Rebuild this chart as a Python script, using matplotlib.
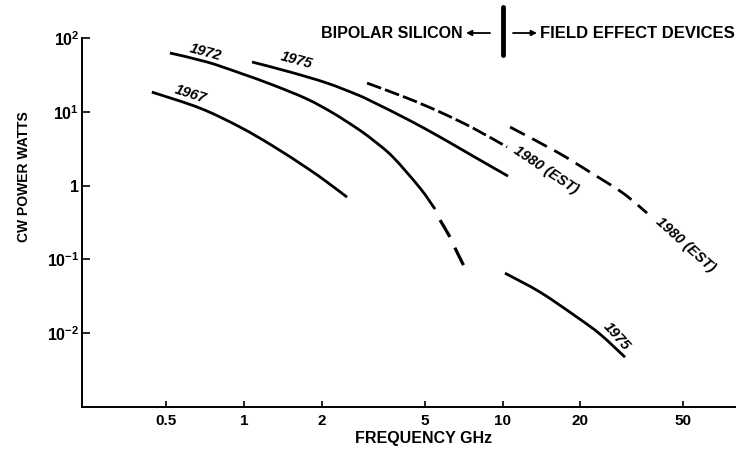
import numpy as np
import matplotlib
matplotlib.use("Agg")
import matplotlib.pyplot as plt
import matplotlib.transforms as mtransforms
from matplotlib.path import Path
from matplotlib.patches import PathPatch, FancyArrowPatch

plt.rcParams["font.family"] = ["Liberation Sans", "DejaVu Sans"]
plt.rcParams["font.weight"] = "bold"
plt.rcParams["mathtext.fontset"] = "custom"
plt.rcParams["mathtext.rm"] = "Liberation Sans:bold"
plt.rcParams["mathtext.bf"] = "Liberation Sans:bold"
plt.rcParams["mathtext.it"] = "Liberation Sans:bold"

# --- data: CW power (W) vs frequency (GHz) ---------------------------------
bip_1967_f = [0.44, 0.676, 0.965, 1.295, 1.753, 2.095, 2.503]
bip_1967_p = [18.5, 11.2, 6.21, 3.43, 1.73, 1.115, 0.698]

bip_1972_f = [0.517, 0.719, 0.965, 1.295, 1.753, 2.21, 2.761, 3.155, 3.771, 4.797, 5.482]
bip_1972_p = [62.6, 47.3, 33.5, 23.05, 14.89, 9.62, 5.84, 4.14, 2.43, 0.925, 0.48]

bip_1972_tail_f = [5.731, 6.265, 6.551, 7.289]
bip_1972_tail_p = [0.3405, 0.2002, 0.1421, 0.0672]

bip_1975_f = [1.074, 1.507, 2.095, 2.761, 3.155, 4.271, 5.731, 7.69, 10.50]
bip_1975_p = [47.3, 34.6, 24.5, 16.87, 13.56, 7.97, 4.55, 2.51, 1.345]

bip_1980_f = [2.991, 4.271, 5.731, 7.69, 10.41]
bip_1980_p = [24.5, 15.37, 9.92, 6.02, 3.33]

fet_1975_f = [10.22, 13.97, 19.42, 23.84, 29.78]
fet_1975_p = [0.0651, 0.036, 0.01648, 0.0097, 0.00473]

fet_1980_f = [10.69, 16.25, 21.81, 29.25, 36.23]
fet_1980_p = [6.21, 2.85, 1.52, 0.791, 0.4237]

xtick_vals = [0.5, 1, 2, 5, 10, 20, 50]
xtick_labels = ["0.5", "1", "2", "5", "10", "20", "50"]
ytick_vals = [1e-2, 1e-1, 1, 1e1, 1e2]
ytick_labels = ["$10^{-2}$", "$10^{-1}$", "1", "$10^{1}$", "$10^{2}$"]

FET_BOUNDARY_GHZ = 10


def smooth_curve(xs, ys):
    """Catmull-Rom curve through the points, built in log-log space."""
    pts = np.column_stack([np.log10(xs), np.log10(ys)])
    n = len(pts)
    verts = [pts[0]]
    codes = [Path.MOVETO]
    for i in range(n - 1):
        p0 = pts[i - 1] if i > 0 else pts[i]
        p1, p2 = pts[i], pts[i + 1]
        p3 = pts[i + 2] if i + 2 < n else pts[i + 1]
        verts += [p1 + (p2 - p0) / 6.0, p2 - (p3 - p1) / 6.0, p2]
        codes += [Path.CURVE4] * 3
    return Path(10.0 ** np.array(verts), codes)


def draw(ax, xs, ys, lw=2.0, ls="-"):
    patch = PathPatch(smooth_curve(xs, ys), fill=False, edgecolor="black",
                      lw=lw, linestyle=ls, capstyle="butt", joinstyle="round")
    ax.add_patch(patch)


# --- figure -------------------------------------------------------------------
W, H = 743, 453
fig = plt.figure(figsize=(W / 100, H / 100), dpi=100)
ax = fig.add_axes([82 / W, 46 / H, 653 / W, 369 / H])
ax.set_xscale("log")
ax.set_yscale("log")
ax.set_xlim(0.2362, 79.3)
ax.set_ylim(1e-3, 1e2)

for s in ("top", "right"):
    ax.spines[s].set_visible(False)
for s in ("left", "bottom"):
    ax.spines[s].set_linewidth(1.4)

ax.minorticks_off()
ax.set_xticks(xtick_vals)
ax.set_xticklabels(xtick_labels)
ax.set_yticks(ytick_vals)
ax.set_yticklabels(ytick_labels)
ax.tick_params(axis="x", direction="in", length=4, width=1.2, pad=5, labelsize=11)
ax.tick_params(axis="y", direction="in", length=6, width=1.2, pad=2, labelsize=11.5)

draw(ax, bip_1967_f, bip_1967_p)
draw(ax, bip_1972_f, bip_1972_p)
draw(ax, bip_1972_tail_f, bip_1972_tail_p, lw=2.3, ls=(0, (6.1, 3.7)))
draw(ax, bip_1975_f, bip_1975_p)
draw(ax, bip_1980_f, bip_1980_p, ls=(0, (5.4, 1.5)))
draw(ax, fet_1975_f, fet_1975_p)
draw(ax, fet_1980_f, fet_1980_p, ls=(0, (6, 3)))

lab = dict(fontsize=10.5, fontweight="bold", fontstyle="italic",
           ha="center", va="center", rotation_mode="anchor")
ax.text(0.618, 17.4, "1967", rotation=-18, **lab)
ax.text(0.7066, 64.6, "1972", rotation=-15, **lab)
ax.text(1.589, 50.3, "1975", rotation=-15, **lab)
ax.text(14.74, 1.623, "1980 (EST)", rotation=-34, **lab)
ax.text(50.8, 0.156, "1980 (EST)", rotation=-42, **lab)
ax.text(27.7, 0.0091, "1975", rotation=-48, **lab)

# boundary marker between bipolar and FET technologies
trans = mtransforms.blended_transform_factory(ax.transData, ax.transAxes)
ax.plot([FET_BOUNDARY_GHZ, FET_BOUNDARY_GHZ], [0.954, 1.084], transform=trans,
        color="black", lw=3.5, clip_on=False, solid_capstyle="round")

fig.text(463 / W, 1 - 33 / H, "BIPOLAR SILICON", ha="right", va="center",
         fontsize=11.5, fontweight="bold")
fig.text(540 / W, 1 - 33 / H, "FIELD EFFECT DEVICES", ha="left", va="center",
         fontsize=12, fontweight="bold")
arrow = dict(arrowstyle="-|>", lw=1.3, color="black", mutation_scale=8,
             shrinkA=0, shrinkB=0)
fig.add_artist(FancyArrowPatch((490 / W, 1 - 33 / H), (466 / W, 1 - 33 / H),
                               transform=fig.transFigure, **arrow))
fig.add_artist(FancyArrowPatch((513 / W, 1 - 33 / H), (537 / W, 1 - 33 / H),
                               transform=fig.transFigure, **arrow))

fig.text(424 / W, 1 - 438 / H, "FREQUENCY GHz", ha="center", va="center",
         fontsize=11.5, fontweight="bold")
fig.text(24 / W, 1 - 177 / H, "CW POWER WATTS", ha="center", va="center",
         rotation=90, fontsize=10, fontweight="bold")

fig.savefig("out.png", dpi=100)
